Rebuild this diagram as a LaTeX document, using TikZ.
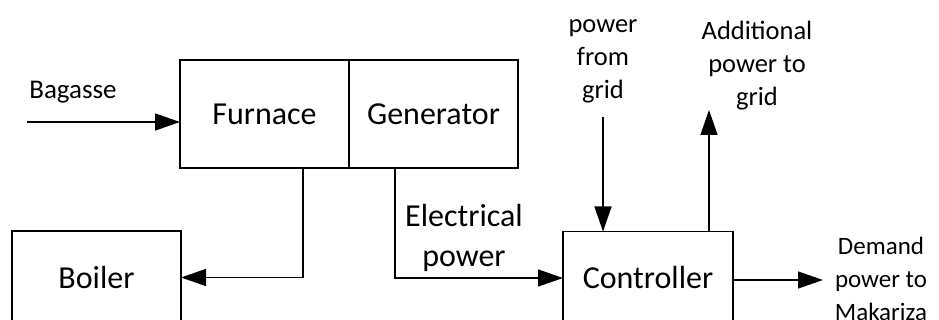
\documentclass[tikz,border=0pt]{standalone}
\usepackage{fontspec}
\setmainfont{Carlito}
\usetikzlibrary{arrows.meta,positioning}
\tikzset{
  box/.style={draw,line width=1.4pt,minimum width=169pt,minimum height=108pt,inner sep=0pt,outer sep=0pt,font=\fontsize{32}{38}\selectfont},
  lbl/.style={align=center,inner sep=0pt,font=\fontsize{26.5}{33}\selectfont},
  ar/.style={-{Triangle[length=25pt,width=17pt]},line width=1.4pt},
}
\begin{document}
\begin{tikzpicture}[x=1pt,y=-1pt]
  \useasboundingbox (0,0) rectangle (939,320);
  % plant
  \node[box] (furnace) at (264.5,114) {Furnace};
  \node[box,right=0pt of furnace] (generator) {Generator};
  \node[box,minimum height=93pt] (boiler) at (96.5,277.5) {Boiler};
  \node[box,minimum width=170pt,minimum height=93pt] (controller) at (648,278) {Controller};
  % labels
  \node[lbl,font=\fontsize{27}{33}\selectfont] (bagasse) at (73,92) {Bagasse};
  \node[lbl,font=\fontsize{32}{40}\selectfont] (elec) at (464,238) {Electrical\\power};
  \node[lbl] (fromgrid) at (603,61) {power\\from\\grid};
  \node[lbl] (togrid) at (757,66) {Additional\\power to\\grid};
  \node[lbl,font=\fontsize{25}{33}\selectfont] (demand) at (881,279) {Demand\\power to\\Makariza};
  \coordinate (bagin) at (27,122);
  \coordinate (gridin) at (603,117);
  \coordinate (gridout) at (709,110);
  \coordinate (load) at (823,280);
  % flows
  \draw[ar] (bagin) -- (bagin -| furnace.west);
  \draw[ar] ([xshift=38.5pt]furnace.south) |- (boiler.east);
  \draw[ar] ([xshift=-38.5pt]generator.south) |- (controller.west);
  \draw[ar] (gridin) -- (gridin |- controller.north);
  \draw[ar] (gridout |- controller.north) -- (gridout);
  \draw[ar] (controller.east |- load) -- (load);
\end{tikzpicture}
\end{document}
